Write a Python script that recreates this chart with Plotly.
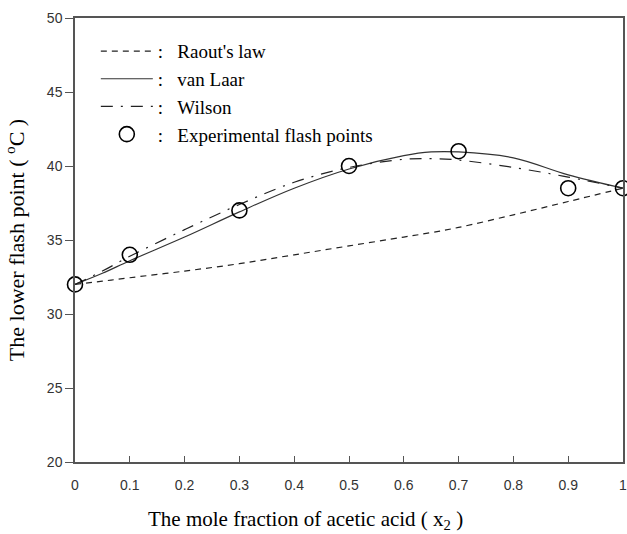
import plotly.graph_objects as go

# ---- data ----
x_curve = [0, 0.05, 0.1, 0.2, 0.3, 0.4, 0.5, 0.6, 0.65, 0.7, 0.8, 0.9, 1.0]
raoult = [32.0, 32.22, 32.45, 32.9, 33.4, 34.0, 34.6, 35.2, 35.5, 35.85, 36.7, 37.6, 38.5]
van_laar = [32.0, 32.75, 33.6, 35.2, 36.9, 38.5, 39.8, 40.7, 40.95, 40.95, 40.55, 39.4, 38.5]
wilson = [32.0, 32.9, 33.9, 35.7, 37.4, 38.9, 39.9, 40.45, 40.5, 40.4, 39.9, 39.25, 38.5]

x_exp = [0, 0.1, 0.3, 0.5, 0.7, 0.9, 1.0]
y_exp = [32, 34, 37, 40, 41, 38.5, 38.5]

x_ticks = [0, 0.1, 0.2, 0.3, 0.4, 0.5, 0.6, 0.7, 0.8, 0.9, 1]
x_ticklabels = ["0", "0.1", "0.2", "0.3", "0.4", "0.5", "0.6", "0.7", "0.8", "0.9", "1"]
y_ticks = [20, 25, 30, 35, 40, 45, 50]

serif = "Liberation Serif, Times New Roman, serif"
sans = "Liberation Sans, Arial, sans-serif"
gap = "\u00a0\u00a0\u00a0"

fig = go.Figure()
fig.add_trace(go.Scatter(x=x_curve, y=raoult, mode="lines", name=":" + gap + "Raout's law",
                         line=dict(color="#222", width=1.2, dash="6px,5px", shape="spline")))
fig.add_trace(go.Scatter(x=x_curve, y=van_laar, mode="lines", name=":" + gap + "van Laar",
                         line=dict(color="#333", width=1.2, shape="spline")))
fig.add_trace(go.Scatter(x=x_curve, y=wilson, mode="lines", name=":" + gap + "Wilson",
                         line=dict(color="#222", width=1.2, dash="12px,8px,2px,8px", shape="spline")))
fig.add_trace(go.Scatter(x=x_exp, y=y_exp, mode="markers",
                         name=":" + gap + "Experimental flash points",
                         marker=dict(symbol="circle-open", size=15, color="black",
                                     line=dict(width=1.6, color="black")),
                         cliponaxis=False))

fig.update_layout(
    width=627, height=534,
    margin=dict(l=75, r=4, t=18, b=72),
    paper_bgcolor="white", plot_bgcolor="white",
    showlegend=True,
    legend=dict(x=0.038, y=0.968, xanchor="left", yanchor="top",
                font=dict(family=serif, size=19, color="black"),
                bgcolor="rgba(0,0,0,0)", itemwidth=52, tracegroupgap=0),
    xaxis=dict(range=[0, 1], tickvals=x_ticks, ticktext=x_ticklabels, automargin=False,
               showline=True, linecolor="#555", linewidth=1.5, mirror=True,
               ticks="inside", ticklen=6, tickcolor="#555", tickwidth=1.2,
               ticklabelstandoff=9, ticklabeloverflow="allow",
               showgrid=False, zeroline=False,
               tickfont=dict(family=sans, size=14, color="#333")),
    yaxis=dict(range=[20, 50], tickvals=y_ticks, automargin=False,
               showline=True, linecolor="#555", linewidth=1.5, mirror=True,
               ticks="outside", ticklen=8, tickcolor="#555", tickwidth=1.2,
               showgrid=False, zeroline=False,
               tickfont=dict(family=sans, size=14, color="#333"),
               title=dict(text="The lower flash point ( <sup>o</sup>C )",
                          font=dict(family=serif, size=22, color="black"), standoff=16)),
    annotations=[dict(text="The mole fraction of acetic acid ( x<sub>2</sub> )",
                      xref="paper", yref="paper", x=0.4215, y=-0.131,
                      xanchor="center", yanchor="middle", showarrow=False,
                      font=dict(family=serif, size=21, color="black"))],
)

fig.write_html("out.html", config={"displayModeBar": False},
               post_script="document.body.style.margin='0';")
